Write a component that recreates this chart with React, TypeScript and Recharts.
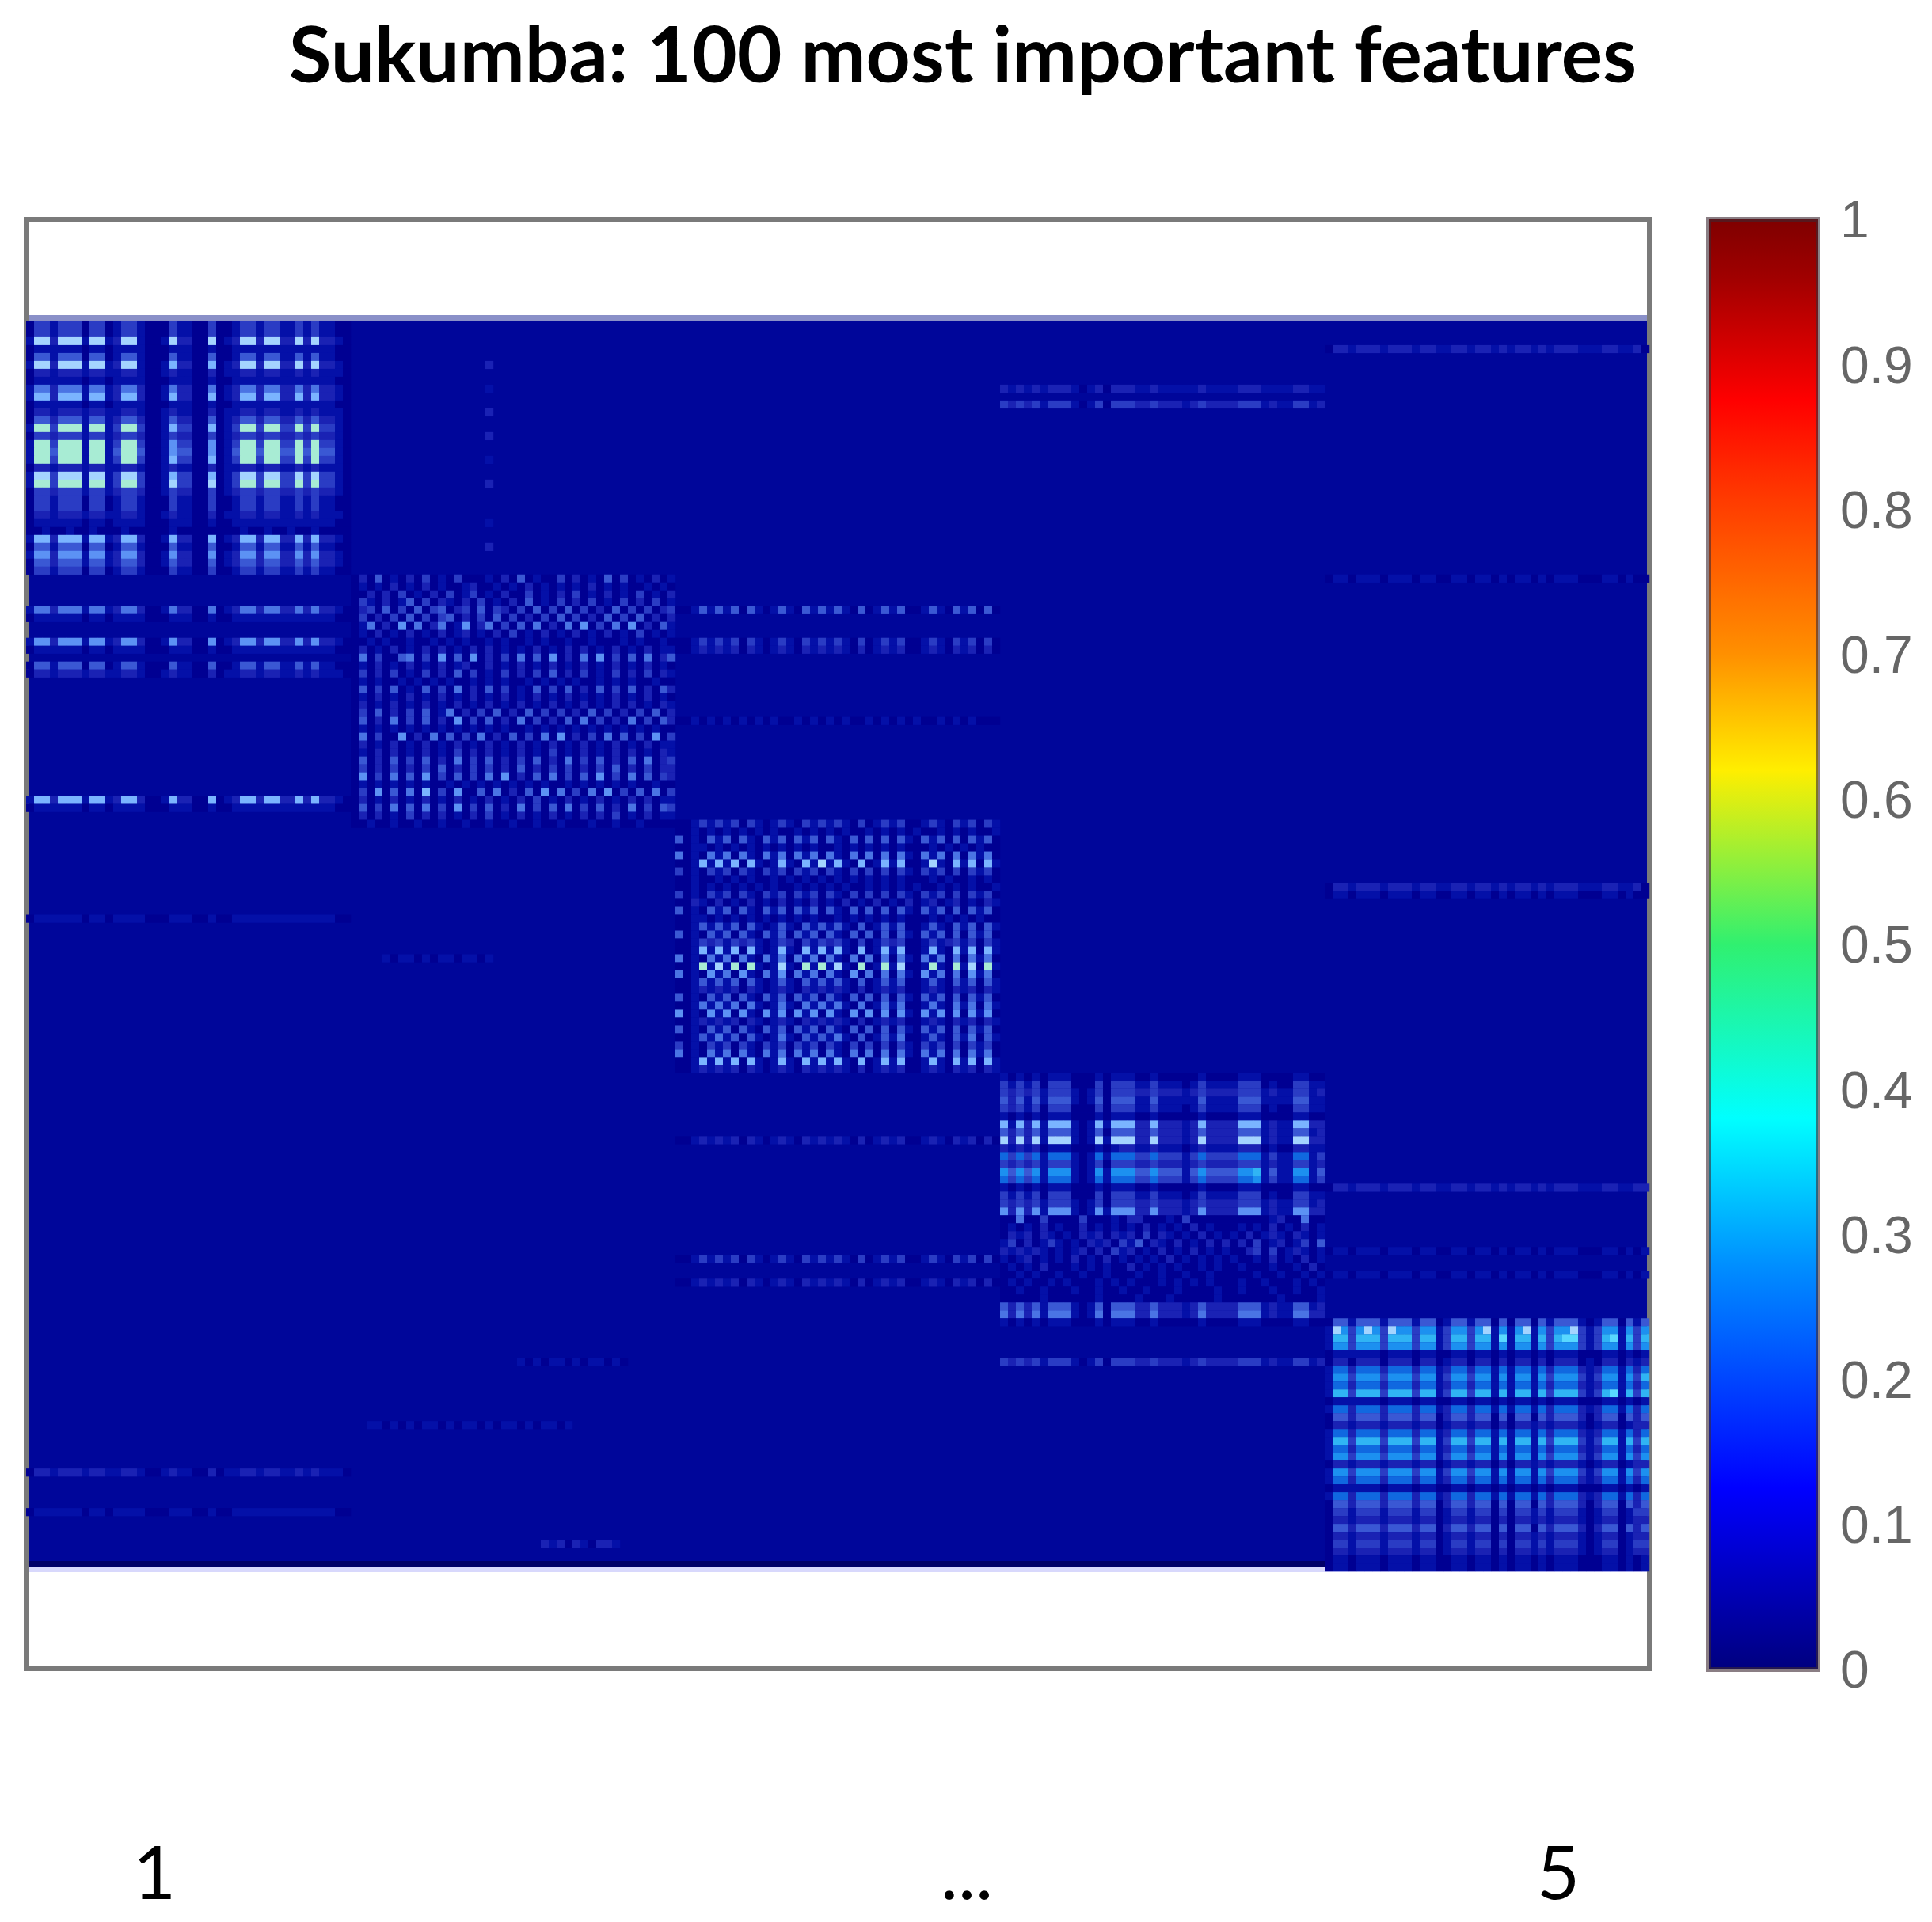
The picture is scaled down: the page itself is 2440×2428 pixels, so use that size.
import { BarChart, Bar, ReferenceArea, Scatter, ScatterChart, XAxis, YAxis } from "recharts";

const title = "Sukumba: 100 most important features";
const bottomLabels = ["1", "...", "5"];
const bottomLabelColumns = [16.2, 118.8, 193.5];
const colorbarTicks = [0, 0.1, 0.2, 0.3, 0.4, 0.5, 0.6, 0.7, 0.8, 0.9, 1];

// what each cell character stands for
const levelColors: Record<string, string> = {
  "0": "#000092", "1": "#0410a8", "2": "#1a22b4", "3": "#2a3cc4", "4": "#3a58d4",
  "5": "#4a74e4", "6": "#5c92f4", "7": "#7ab4ff", "8": "#a4d4ff", "9": "#a8ecd4",
  a: "#1068e0", b: "#1c90f0", c: "#30b4f4", d: "#58d8ff",
};

const jetOffsets = [0, 0.04, 0.125, 0.18, 0.3, 0.38, 0.5, 0.62, 0.72, 0.875, 1];
const jetColors = ["#7f0000", "#a00000", "#ff0000", "#ff3000", "#ff9000", "#ffee00", "#30f070", "#00ffff", "#0090ff", "#0000ff", "#00007f"];

// block rows, one char per cell of the 205 x 158 grid
const blockOrigins = [[0, 0], [41, 32], [82, 63], [123, 95], [164, 126]];

const block1 = [
  "03313 33033 01331 00031 10030 01331 33113 13110 0",
  "03313 33033 01331 00031 10030 01331 33113 13110 0",
  "18828 88188 12881 00182 20080 12882 88228 28221 0",
  "01111 11011 01111 00011 10010 01111 11111 11110 0",
  "04414 44044 01441 00041 10040 01441 44114 14110 0",
  "18828 88188 12881 00172 20070 12882 88228 28221 0",
  "02212 22122 11221 00121 10020 11221 22112 12111 0",
  "01111 11011 01111 00011 10010 01111 11111 11110 0",
  "15525 55155 12552 00152 20050 12552 55225 25221 0",
  "17727 77177 12772 00172 20070 12772 77227 27221 0",
  "01111 11011 01111 00011 10010 01111 11111 11110 0",
  "02212 22122 11221 00121 10020 11221 22112 12111 0",
  "04424 44144 12442 00142 20040 12442 44224 24221 0",
  "19939 99199 13993 00173 30070 13993 99339 39331 0",
  "03323 33133 12332 00132 20030 12332 33223 23221 0",
  "19939 99199 13993 00163 30060 13993 99339 39331 0",
  "19949 99199 14994 00164 40060 14994 99449 49441 0",
  "19939 99199 13993 00173 30070 13993 99339 39331 0",
  "02212 22122 11221 00121 10020 11221 22112 12111 0",
  "18838 88188 13883 00173 30070 13883 88338 38331 0",
  "19939 99199 13993 00183 30080 13993 99339 39331 0",
  "03323 33133 12332 00132 20030 12332 33223 23221 0",
  "03313 33033 01331 00031 10030 01331 33113 13110 0",
  "03313 33033 01331 00031 10030 01331 33113 13110 0",
  "02212 22122 11221 00121 10020 11221 22112 12111 0",
  "01111 11011 01111 00011 10010 01111 11111 11110 0",
  "00100 10010 00100 00010 00000 00100 10010 01000 0",
  "17727 77177 12772 00172 20070 12772 77227 27221 0",
  "04414 44044 01441 00041 10040 01441 44114 14110 0",
  "16626 66166 12662 00162 20060 12662 66226 26221 0",
  "04424 44144 12442 00142 20040 12442 44224 24221 0",
  "03313 33033 01331 00031 10030 01331 33113 13110 0",
];

const block2 = [
  "02040 10203 01030 00102 04010 03020 10403 01020 1",
  "01010 20102 01001 20010 10201 01010 20101 00101 0",
  "00202 03010 20301 30102 00301 02030 10201 03010 2",
  "03102 01403 02102 03010 20401 03020 30103 02030 1",
  "02304 03040 34023 04032 03040 30403 02040 30302 3",
  "03020 30403 03402 03040 30203 04030 20403 04020 2",
  "01502 06050 25016 02503 04050 20506 03050 60204 1",
  "01020 10201 02012 01020 30102 01020 10201 03010 1",
  "00101 00100 10101 00101 00101 00100 10001 01001 0",
  "02010 20102 02010 20201 01020 10202 01020 10201 1",
  "05030 04503 06040 60203 05040 60205 06030 40502 4",
  "01020 10201 02012 00201 02010 20102 01020 10201 0",
  "03020 30103 02040 30103 02030 40203 01030 20302 1",
  "01010 01010 10100 10101 00101 01010 01010 10010 0",
  "04030 40104 03050 20403 01040 30402 04030 40204 2",
  "01020 10201 02010 20102 01020 10201 01020 10201 0",
  "02010 20102 01020 10201 02010 20102 01020 20102 1",
  "03040 20304 01502 03040 20403 03020 40302 03040 2",
  "04020 50304 02060 30402 05030 20405 03020 50304 2",
  "01010 10101 01010 10101 00101 01010 10101 01010 0",
  "05030 06020 50403 05020 40305 06020 30504 03060 3",
  "02010 20102 01020 10201 02010 20102 01020 10201 1",
  "01020 20102 01030 20201 02010 30102 01020 20102 1",
  "04020 40304 02050 30402 03040 20503 04020 40502 3",
  "03020 30203 04020 30302 04020 30302 03040 20302 2",
  "06030 50406 03040 30506 02040 50304 06030 50403 2",
  "01010 10101 00101 01010 10101 00101 01010 10010 0",
  "03060 40507 03060 04050 20406 05030 50603 04050 3",
  "02010 20102 01020 10201 02030 10201 02010 20201 1",
  "04030 50405 03060 30402 05030 40503 04020 50304 3",
  "02020 10302 02010 20301 02010 20102 02030 10201 1",
  "00100 10010 01001 00100 10010 01000 10010 01000 0",
];

const block3 = [
  "00131 31303 10131 03131 31030 13130 01310 31303 1",
  "00101 01010 10100 10101 01001 01010 10010 10100 1",
  "40104 14041 04140 41404 10404 04041 04140 40414 0",
  "00110 10101 01010 10100 10101 01010 00101 01010 0",
  "50105 15051 05150 51505 10505 05051 05150 50515 0",
  "00171 71707 10171 07181 71070 17170 01810 71707 1",
  "30103 13031 03130 31303 10303 03031 03130 30313 0",
  "00100 10101 00101 01010 10101 01010 00101 00101 0",
  "00101 01010 10100 10101 01001 01010 10010 10100 1",
  "30103 13031 03130 31303 10303 03031 03130 30313 0",
  "00210 20102 01020 10201 02010 20102 01201 20102 1",
  "40104 14041 04140 41404 10404 04041 04140 40414 0",
  "00110 10101 01010 10100 10101 01010 00101 01010 0",
  "00141 41404 10141 04141 41040 14140 01410 41404 1",
  "40104 14041 04140 41404 10404 04041 04140 40414 0",
  "00132 31323 10132 03132 31030 13230 01312 31303 1",
  "00171 71707 10171 07171 71070 17170 01710 71707 1",
  "50105 15051 05150 51505 10505 05051 05150 50515 0",
  "00191 81909 10181 09191 81090 19180 01910 91809 1",
  "50106 15061 05160 51505 10605 05051 06150 50615 0",
  "00141 41404 10141 04141 41040 14140 01410 41404 1",
  "00121 21202 10121 02121 21020 12120 01210 21202 1",
  "40104 14041 04140 41404 10404 04041 04140 40414 0",
  "00151 51505 10151 05151 51050 15150 01510 51505 1",
  "60106 16061 06160 61606 10606 06061 06160 60616 0",
  "00121 21202 10121 02121 21020 12120 01210 21202 1",
  "40104 14041 04140 41404 10404 04041 04140 40414 0",
  "00141 51404 10151 04141 51040 14150 01410 41504 1",
  "30103 13031 03130 31303 10303 03031 03130 30313 0",
  "50105 15051 05150 51505 10505 05051 05150 50515 0",
  "00171 71707 10171 07171 71070 17170 01710 71707 1",
  "00121 21202 10121 02121 21020 12120 01210 21202 1",
];

const block4 = [
  "10101 01110 00101 11001 00000 10000 11100 00110 0",
  "31313 03330 00303 33113 11101 31111 33301 00331 1",
  "32323 13331 01303 33223 22212 32222 33312 11331 2",
  "42414 14441 01404 44114 11111 41111 44411 11441 1",
  "32313 03330 00303 33113 11101 31111 33301 00331 1",
  "10101 01110 00101 11001 00000 10000 11100 00110 0",
  "71727 17771 01717 77227 22212 72222 77712 11772 2",
  "42424 14441 01404 44224 22212 42222 44412 11441 2",
  "82828 18881 01818 88228 22212 82222 88812 11882 2",
  "21212 01110 00101 22112 11101 21111 22201 00221 1",
  "a3a3a 1aaa1 01a1a aa33a 33313 a3333 aaa13 11aa1 3",
  "32323 13331 01303 33223 22212 32222 33312 11331 2",
  "b4b4b 1bbb1 01b1b bb44b 44414 b4444 bbc14 11bb1 4",
  "a3a3a 1aaa1 01a1a aa33a 33313 a3333 aab13 11aa1 3",
  "10101 01110 00101 11001 00000 10000 11100 00110 0",
  "31313 03330 00303 33113 11101 31111 33301 00331 1",
  "32323 13331 01303 33223 22212 32222 33312 11331 2",
  "62626 16661 01616 66226 22212 62222 66612 11662 2",
  "00500 30000 30001 02200 01030 00000 00001 20050 0",
  "01010 20100 20101 01020 10102 01000 10102 01020 1",
  "02120 21010 21202 12030 21010 20101 02012 10210 1",
  "13020 13101 02120 31402 10201 02020 20301 20130 4",
  "21212 10101 20203 12010 20102 01010 02303 01210 1",
  "10120 10102 01020 10101 02010 10101 00102 01020 1",
  "01010 20001 01010 02010 10100 10100 10001 00102 0",
  "00101 00100 10010 00100 10010 01000 00100 10010 1",
  "01010 01010 00101 01000 10101 01000 10010 00101 0",
  "00100 10001 00100 10010 00100 00100 10001 00100 1",
  "00000 10000 00100 00100 01000 00100 00000 10000 1",
  "42424 14441 01404 44224 22212 42222 44412 11441 2",
  "52525 15551 01505 55225 22212 52222 55512 11552 2",
  "10101 01110 00101 11001 00000 10000 11100 00110 0",
];

const block5 = [
  "0441444144 4144014414 4040440414 4410144041 4",
  "18b3b8b38b b3bb13bb3b 81b1b81b3b b8313bb1b3 b",
  "1cc3ccc3cc c3cc13cc3c c1d1cc1c3c dd313cd1c3 c",
  "1bb3bbb3bb b3bb13bb3b b1b1bb1b3b bb313bb1b3 b",
  "0111111011 1011001101 1010110101 1100011010 1",
  "0220222022 2022012202 2020220202 2201022021 2",
  "1aa2aaa2aa a2aa12aa2a a1a1aa1a2a aa212aa1a2 a",
  "1bb3bbb3bb b3bb13bb3b b1b1bb1b3b bb313bb1b3 c",
  "1aa2aaa2aa a2aa12aa2a a1a1aa1a2a aa212aa1a2 a",
  "1cc3ccc3cc c3cc13cc3c c1c1cc1c3c cc313cd1c3 c",
  "0111111011 1011001101 1010110101 1100011010 1",
  "1aa2aaa2aa a2aa12aa2a a1a1aa1a2a aa212aa1a2 a",
  "0442444244 4244024424 4040440424 4420244042 4",
  "0221222122 2122012212 2020221212 2210122012 2",
  "1aa2aaa2aa a2aa12aa2a a1a1aa1a2a aa212aa1a2 a",
  "1cc3ccc3cc c3cc13cc3c c1c1cc1c3c cc313cc1c3 c",
  "1aa2aaa2aa a2aa12aa2a a1a1aa1a2a aa212aa1a2 a",
  "1bb3bbb3bb b3bb13bb3b b1b1bb1b3b bb313bb1b3 b",
  "0221222122 2122012212 2020221212 2210122012 2",
  "1bb3bbb3bb b3bb13bb3b b1b1bb1b3b bb313bb1b3 b",
  "1aa2aaa2aa a2aa12aa2a a1a1aa1a2a aa212aa1a2 a",
  "0111111011 1011001101 1010110101 1100011010 1",
  "1aa2aaa2aa a2aa12aa2a a1a1aa1a2a aa212aa1a2 a",
  "0442444244 4244024424 4040440424 4420244042 4",
  "0331333133 3133013313 3030331313 3310133013 3",
  "0221222122 2122012212 2020221212 2210122012 2",
  "0442444244 4244024424 4040440424 4420244042 4",
  "0221222122 2122012212 2020221212 2210122012 2",
  "0331333133 3133013313 3030331313 3310133013 3",
  "0221222122 2122012212 2020221212 2210122012 2",
  "0110111011 1011001101 1010110101 1100011010 1",
  "0110111011 1011001101 1010110101 1100011010 1",
];

// thin dashed rows and lone dots outside the diagonal blocks
const stripRows = [36, 37, 40, 41, 43, 44, 60, 61, 75, 145, 150, 36, 40, 41, 50, 103, 118, 121, 8, 10, 131, 3, 32, 71, 72, 109, 117, 120, 5, 8, 11, 14, 17, 20, 25, 28, 131, 139, 154, 80];
const stripCols = [0, 0, 0, 0, 0, 0, 0, 0, 0, 0, 0, 82, 82, 82, 82, 82, 82, 82, 123, 123, 123, 164, 164, 164, 164, 164, 164, 164, 58, 58, 58, 58, 58, 58, 58, 58, 62, 43, 65, 45];
const stripValues = [
  "15525 55155 12552 00152 20050 12552 55225 25221 0",
  "01111 11011 01111 00011 10010 01111 11111 11110 0",
  "16626 66166 12662 00162 20060 12662 66226 26221 0",
  "01111 11011 01111 00011 10010 01111 11111 11110 0",
  "04414 44044 01441 00041 10040 01441 44114 14110 0",
  "02212 22122 11221 00121 10020 11221 22112 12111 0",
  "17727 77177 12772 00172 20070 12772 77227 27221 0",
  "01111 11011 01111 00011 10010 01111 11111 11110 0",
  "01111 11011 01111 00011 10010 01111 11111 11110 0",
  "02212 22122 11221 00121 10020 11221 22112 12111 0",
  "01111 11011 01111 00011 10010 01111 11111 11110 0",
  "00141 41404 10141 04141 41040 14140 01410 41404 0",
  "00131 31303 10131 03131 31030 13130 01310 31303 0",
  "00121 21202 10121 02121 21020 12120 01210 21202 0",
  "00101 01010 10100 10101 01001 01010 10010 10100 0",
  "00121 21202 10121 02121 21020 12120 01210 21202 0",
  "00131 31303 10131 03131 31030 13130 01310 31303 0",
  "00121 21202 10121 02121 21020 12120 01210 21202 0",
  "21212 12221 01202 22112 11111 21111 22211 11221 1",
  "32323 13331 01303 33223 22212 32222 33312 11331 2",
  "32323 13331 01303 33223 22212 32222 33312 11331 2",
  "0221222122 2122112212 2121221212 2211122112 0",
  "0110111011 1011001101 1010110101 1100011010 0",
  "0221222122 2122112212 2121221212 2211122112 0",
  "0110111011 1011001101 1010110101 1100011010 0",
  "0221222122 2122112212 2121221212 2211122112 2",
  "0110111011 1011001101 1010110101 1100011010 1",
  "0110111011 1011001101 1010110101 1100011010 1",
  "2", "1", "2", "2", "1", "2", "1", "2",
  "1010 1101 0110 10",
  "1101 0101 1010 1101 0110 1011 01",
  "2120 2102 21",
  "1011 0101 1011 01",
];

const toCells = (rows: string[], col0: number, row0: number) =>
  rows.flatMap((text, r) =>
    [...text.replace(/ /g, "")].map((level, c) => ({ x: col0 + c + 0.5, y: row0 + r + 0.5, level }))
  );

const blocks = [block1, block2, block3, block4, block5].map((rows, i) =>
  toCells(rows, blockOrigins[i][0], blockOrigins[i][1])
);
const strips = stripValues.flatMap((text, i) => toCells([text], stripCols[i], stripRows[i]));

const HeatCell = (props: any) => (
  <rect
    x={props.cx - 5}
    y={props.cy - 5}
    width={10.2}
    height={10.2}
    fill={levelColors[props.payload.level]}
  />
);

export default function App() {
  return (
    <div style={{ position: "absolute", left: 0, top: 0, width: 2440, height: 2428, background: "#fff", overflow: "hidden" }}>
      <div
        style={{
          position: "absolute",
          left: 0,
          width: 2432,
          top: 10,
          textAlign: "center",
          font: "bold 98px Lato",
          lineHeight: "112px",
          color: "#000",
          whiteSpace: "nowrap",
        }}
      >
        {title}
      </div>

      <ScatterChart width={2440} height={2428} margin={{ left: 33, right: 357, top: 277, bottom: 240 }}>
        <XAxis
          type="number"
          dataKey="x"
          domain={[0, 205]}
          ticks={bottomLabelColumns}
          tickFormatter={(v: number) => bottomLabels[bottomLabelColumns.indexOf(v)]}
          interval={0}
          height={80}
          axisLine={false}
          tickLine={false}
          tickMargin={218}
          tick={{ fill: "#000", fontSize: 94, fontFamily: "Lato" }}
        />
        <YAxis type="number" dataKey="y" domain={[-12.9, 170.3]} reversed hide />
        <ReferenceArea x1={0} x2={205} y1={-0.8} y2={158} fill="#8a90c8" fillOpacity={1} stroke="none" />
        <ReferenceArea x1={0} x2={205} y1={0} y2={157.4} fill="#00069a" fillOpacity={1} stroke="none" />
        {blocks.map((cells, i) => (
          <Scatter key={i} data={cells} shape={HeatCell} isAnimationActive={false} />
        ))}
        <Scatter data={strips} shape={HeatCell} isAnimationActive={false} />
        <ReferenceArea x1={0} x2={164} y1={156.7} y2={157.4} fill="#000068" fillOpacity={1} stroke="none" />
        <ReferenceArea x1={0} x2={205} y1={157.4} y2={158.1} fill="#d8d8fc" fillOpacity={1} stroke="none" />
        <ReferenceArea x1={0} x2={205} y1={-12.9} y2={170.3} fill="none" stroke="#7a7a7a" strokeWidth={6} />
      </ScatterChart>

      <div style={{ position: "absolute", left: 2155, top: 200 }}>
        <BarChart width={285} height={2000} data={[{ name: "scale", value: 1 }]} margin={{ left: 3, right: 0, top: 77, bottom: 91 }} barCategoryGap={0}>
          <defs>
            <linearGradient id="jet" x1="0" y1="0" x2="0" y2="1">
              {jetOffsets.map((o, i) => (
                <stop key={o} offset={o} stopColor={jetColors[i]} />
              ))}
            </linearGradient>
          </defs>
          <XAxis dataKey="name" hide />
          <YAxis
            orientation="right"
            domain={[0, 1]}
            ticks={colorbarTicks}
            interval={0}
            width={144}
            axisLine={false}
            tickLine={false}
            tickMargin={22}
            tick={{ fill: "#666", fontSize: 66, fontFamily: "Liberation Sans" }}
          />
          <Bar dataKey="value" fill="url(#jet)" stroke="rgba(60,40,50,0.6)" strokeWidth={6} isAnimationActive={false} />
        </BarChart>
      </div>
    </div>
  );
}
